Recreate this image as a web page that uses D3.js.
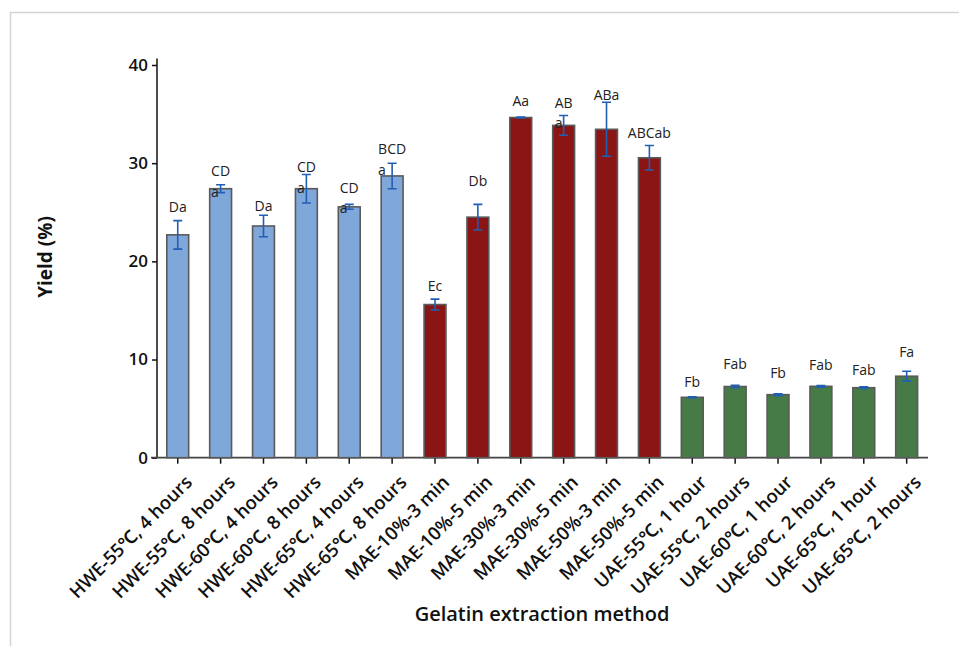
<!DOCTYPE html>
<html>
<head>
<meta charset="utf-8">
<script src="https://cdn.jsdelivr.net/npm/d3@7"></script>
<style>
  html, body { margin: 0; padding: 0; background: #fff; }
  svg { display: block; }
</style>
</head>
<body>
<svg id="chart" width="959" height="646"></svg>
<script>
const categories = [
  "HWE-55℃, 4 hours", "HWE-55℃, 8 hours", "HWE-60℃, 4 hours", "HWE-60℃, 8 hours",
  "HWE-65℃, 4 hours", "HWE-65℃, 8 hours",
  "MAE-10%-3 min", "MAE-10%-5 min", "MAE-30%-3 min", "MAE-30%-5 min", "MAE-50%-3 min", "MAE-50%-5 min",
  "UAE-55℃, 1 hour", "UAE-55℃, 2 hours", "UAE-60℃, 1 hour", "UAE-60℃, 2 hours",
  "UAE-65℃, 1 hour", "UAE-65℃, 2 hours"
];
const groups = ["HWE","HWE","HWE","HWE","HWE","HWE","MAE","MAE","MAE","MAE","MAE","MAE","UAE","UAE","UAE","UAE","UAE","UAE"];
const yieldValues = [22.7, 27.4, 23.6, 27.4, 25.55, 28.7, 15.6, 24.5, 34.65, 33.85, 33.45, 30.55, 6.15, 7.25, 6.42, 7.27, 7.13, 8.3];
const yieldErrors = [1.45, 0.4, 1.1, 1.45, 0.25, 1.3, 0.55, 1.3, 0.04, 1.0, 2.75, 1.25, 0.05, 0.12, 0.1, 0.08, 0.08, 0.5];
const labelLine1 = ["Da","CD","Da","CD","CD","BCD","Ec","Db","Aa","AB","ABa","ABCab","Fb","Fab","Fb","Fab","Fab","Fa"];
const labelLine2 = ["","a","","a","a","a","","","","a","","","","","","","",""];
const labelAt = [25.55, 29.2, 25.6, 29.6, 27.5, 31.4, 17.5, 28.2, 36.35, 36.15, 36.93, 33.1, 7.74, 9.5, 8.6, 9.44, 8.93, 10.73];
const yTicks = [0, 10, 20, 30, 40];
const groupColors = { HWE: "#7fa7d9", MAE: "#8b1414", UAE: "#467a46" };

const svg = d3.select("#chart");
const font = "'Open Sans', 'Noto Sans', sans-serif";

// frame
svg.append("path")
  .attr("d", "M10.5,646 L10.5,12.5 L959,12.5")
  .attr("fill", "none").attr("stroke", "#d4d4d4").attr("stroke-width", 1.5);

const x = d3.scaleBand().domain(categories).range([156.3, 928.1]).paddingInner(0.49).paddingOuter(0.245);
const y = d3.scaleLinear().domain([0, 40]).range([457.7, 65]);

// y axis
const yAxis = svg.append("g").attr("transform", "translate(157,0)")
  .call(d3.axisLeft(y).tickValues(yTicks).tickSize(5).tickPadding(4).tickFormat(d3.format("d")));
yAxis.select(".domain").attr("d", `M0,${y(0)}V${y(40.65)}`).attr("stroke", "#111").attr("stroke-width", 1.5);
yAxis.selectAll(".tick line").attr("stroke", "#111").attr("stroke-width", 1.5);
yAxis.selectAll(".tick text").attr("font-family", font).attr("font-size", 17).attr("font-weight", 600).attr("fill", "#111");

// x axis
const xAxis = svg.append("g").attr("transform", `translate(0,${y(0)})`)
  .call(d3.axisBottom(x).tickSize(6).tickPadding(4));
xAxis.select(".domain").attr("d", `M151,0H928`).attr("stroke", "#444").attr("stroke-width", 1.8);
xAxis.selectAll(".tick line").attr("stroke", "#111").attr("stroke-width", 1.5);
xAxis.selectAll(".tick text")
  .attr("font-family", font).attr("font-size", 18.5).attr("font-weight", 600).attr("fill", "#111")
  .attr("text-anchor", "end")
  .attr("dy", "0.35em")
  .attr("transform", "translate(4,14) rotate(-45)");

// bars
svg.append("g").selectAll("rect").data(categories).join("rect")
  .attr("x", d => x(d))
  .attr("width", x.bandwidth())
  .attr("y", (d, i) => y(yieldValues[i]))
  .attr("height", (d, i) => y(0) - y(yieldValues[i]))
  .attr("fill", (d, i) => groupColors[groups[i]])
  .attr("stroke", "#5a5a5a").attr("stroke-width", 1.6);

// error bars
const eb = svg.append("g").attr("stroke", "#1f5fb4").attr("stroke-width", 1.6).attr("fill", "none");
categories.forEach((c, i) => {
  const cx = x(c) + x.bandwidth() / 2;
  const hi = y(yieldValues[i] + yieldErrors[i]);
  const lo = y(yieldValues[i] - yieldErrors[i]);
  const w = 4.5;
  eb.append("path").attr("d", `M${cx},${hi}V${lo}M${cx - w},${hi}H${cx + w}M${cx - w},${lo}H${cx + w}`);
});

// significance labels
const lg = svg.append("g").attr("font-family", font).attr("font-size", 14).attr("fill", "#222");
categories.forEach((c, i) => {
  const cx = x(c) + x.bandwidth() / 2;
  const t1 = lg.append("text").attr("x", cx).attr("y", y(labelAt[i])).attr("dy", "0.35em")
    .attr("text-anchor", "middle").text(labelLine1[i]);
  if (labelLine2[i]) {
    const bb = t1.node().getBBox();
    lg.append("text").attr("x", bb.x).attr("y", y(labelAt[i]) + 20.7).attr("dy", "0.35em")
      .attr("text-anchor", "start").text(labelLine2[i]);
  }
});

// axis titles
svg.append("text").attr("x", 542).attr("y", 614).attr("dy", "0.35em").attr("text-anchor", "middle")
  .attr("font-family", font).attr("font-size", 20).attr("font-weight", 600).attr("fill", "#111")
  .text("Gelatin extraction method");
svg.append("text").attr("transform", "translate(45,257) rotate(-90)").attr("dy", "0.35em").attr("text-anchor", "middle")
  .attr("font-family", font).attr("font-size", 19).attr("font-weight", 700).attr("fill", "#111")
  .text("Yield (%)");
</script>
</body>
</html>
